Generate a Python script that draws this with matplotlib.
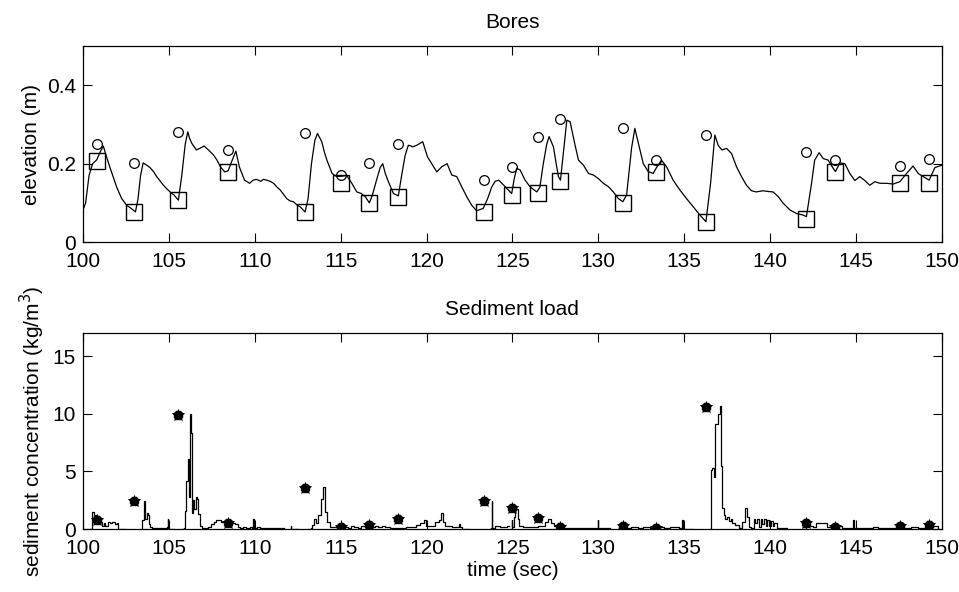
import numpy as np
import matplotlib
matplotlib.use("Agg")
import matplotlib.pyplot as plt

# ---------------- data ----------------
# bore events (time, crest elevation, trough elevation, sediment peak)
bore_t = [100.80, 102.97, 105.55, 108.45, 112.93, 115.00, 116.67, 118.36, 123.32,
          124.97, 126.47, 127.79, 131.44, 133.39, 136.27, 142.12, 143.81, 147.56, 149.27]
crest_elev = [0.250, 0.202, 0.280, 0.235, 0.277, 0.171, 0.202, 0.250, 0.158,
              0.192, 0.269, 0.313, 0.290, 0.209, 0.273, 0.229, 0.209, 0.194, 0.211]
trough_elev = [0.207, 0.076, 0.107, 0.179, 0.076, 0.150, 0.100, 0.116, 0.077,
               0.120, 0.124, 0.156, 0.100, 0.178, 0.052, 0.059, 0.178, 0.150, 0.150]
sed_peak = [0.78, 2.41, 9.9, 0.49, 3.56, 0.2, 0.34, 0.83, 2.41, 1.84,
            0.98, 0.2, 0.26, 0.06, 10.6, 0.55, 0.2, 0.26, 0.34]

# water surface elevation time series
elev_t = [100.00, 100.15, 100.35, 100.56, 100.80, 101.00, 101.18, 101.35, 101.57, 101.80,
          101.96, 102.25, 102.54, 102.80, 103.05, 103.20, 103.35, 103.50, 103.65, 103.90,
          104.10, 104.29, 104.50, 104.68, 104.90, 105.07, 105.30, 105.55, 105.75, 105.95,
          106.10, 106.20, 106.33, 106.60, 106.80, 107.05, 107.30, 107.60, 107.80, 108.00,
          108.25, 108.45, 108.65, 108.90, 109.10, 109.40, 109.70, 109.90, 110.10, 110.35,
          110.50, 110.70, 110.90, 111.09, 111.30, 111.48, 111.70, 111.86, 112.05, 112.25,
          112.45, 112.64, 112.93, 113.10, 113.30, 113.50, 113.65, 113.90, 114.05, 114.20,
          114.50, 114.77, 115.06, 115.35, 115.65, 115.94, 116.20, 116.45, 116.67, 116.85,
          117.10, 117.30, 117.45, 117.60, 117.78, 118.07, 118.36, 118.55, 118.75, 118.94,
          119.10, 119.20, 119.43, 119.78, 120.05, 120.30, 120.60, 120.88, 121.20, 121.47,
          121.76, 122.05, 122.34, 122.63, 122.92, 123.30, 123.55, 123.80, 124.00, 124.20,
          124.50, 124.67, 124.96, 125.10, 125.25, 125.45, 125.74, 126.03, 126.42, 126.60,
          126.80, 127.00, 127.14, 127.39, 127.55, 127.68, 127.80, 127.95, 128.17, 128.36,
          128.65, 128.85, 129.14, 129.43, 129.72, 130.00, 130.30, 130.60, 130.88, 131.17,
          131.43, 131.65, 131.94, 132.13, 132.33, 132.62, 132.91, 133.20, 133.39, 133.68,
          133.98, 134.36, 134.75, 135.14, 135.53, 135.92, 136.27, 136.54, 136.79, 136.98,
          137.20, 137.47, 137.76, 138.05, 138.34, 138.63, 138.92, 139.20, 139.60, 139.90,
          140.18, 140.48, 140.77, 141.16, 141.54, 141.93, 142.12, 142.42, 142.60, 142.86,
          143.10, 143.39, 143.68, 143.81, 144.07, 144.36, 144.65, 144.94, 145.23, 145.52,
          145.81, 146.10, 146.40, 146.78, 147.17, 147.56, 147.95, 148.33, 148.63, 148.92,
          149.27, 149.60, 150.00]
elev_v = [0.082, 0.100, 0.170, 0.200, 0.210, 0.230, 0.245, 0.220, 0.190, 0.160,
          0.140, 0.111, 0.094, 0.086, 0.077, 0.110, 0.170, 0.202, 0.198, 0.190,
          0.180, 0.167, 0.155, 0.145, 0.135, 0.128, 0.120, 0.107, 0.170, 0.250,
          0.281, 0.265, 0.252, 0.235, 0.239, 0.245, 0.235, 0.222, 0.209, 0.192,
          0.179, 0.182, 0.205, 0.232, 0.192, 0.158, 0.150, 0.158, 0.160, 0.155,
          0.160, 0.158, 0.155, 0.150, 0.140, 0.133, 0.120, 0.111, 0.105, 0.103,
          0.095, 0.090, 0.077, 0.110, 0.200, 0.260, 0.277, 0.256, 0.230, 0.209,
          0.175, 0.167, 0.168, 0.170, 0.150, 0.128, 0.124, 0.115, 0.100, 0.120,
          0.160, 0.190, 0.200, 0.175, 0.154, 0.124, 0.118, 0.170, 0.220, 0.247,
          0.245, 0.243, 0.247, 0.256, 0.218, 0.200, 0.179, 0.192, 0.200, 0.171,
          0.167, 0.141, 0.116, 0.094, 0.080, 0.086, 0.110, 0.141, 0.155, 0.158,
          0.145, 0.137, 0.124, 0.160, 0.188, 0.184, 0.158, 0.141, 0.128, 0.140,
          0.200, 0.250, 0.269, 0.243, 0.200, 0.167, 0.158, 0.220, 0.311, 0.307,
          0.247, 0.209, 0.196, 0.175, 0.171, 0.162, 0.150, 0.141, 0.128, 0.111,
          0.103, 0.120, 0.240, 0.290, 0.253, 0.200, 0.180, 0.175, 0.190, 0.209,
          0.192, 0.158, 0.133, 0.111, 0.090, 0.069, 0.052, 0.150, 0.273, 0.247,
          0.235, 0.239, 0.226, 0.192, 0.167, 0.145, 0.131, 0.128, 0.131, 0.129,
          0.128, 0.116, 0.099, 0.082, 0.073, 0.069, 0.065, 0.150, 0.209, 0.228,
          0.213, 0.209, 0.188, 0.180, 0.202, 0.200, 0.175, 0.157, 0.167, 0.157,
          0.145, 0.154, 0.150, 0.150, 0.148, 0.154, 0.175, 0.194, 0.175, 0.167,
          0.158, 0.190, 0.196]

nan = np.nan
# sediment concentration time series (nan = gap in record)
sed_t = [100.40, 100.55, 100.62, 100.70, 100.80, 100.90, 101.00, 101.10, 101.20, 101.30,
         101.45, 101.55, 101.70, 101.85, 101.98, 102.02, 102.50,
         103.36, 103.45, 103.52, 103.58, 103.62, 103.70, 103.76, 103.82, 103.90, 104.00,
         104.50, 104.88, 104.92, 104.96, 105.00, 105.30,
         105.74, 105.85, 105.95, 106.02, 106.10, 106.15, 106.22, 106.28, 106.32, 106.40,
         106.48, 106.55, 106.62, 106.70, 106.80, 106.90, 107.10, 107.30, 107.45, 107.60,
         107.75, 107.90, 108.05, 108.20, 108.35, 108.50, 108.70, 108.85, 109.00, 109.15,
         109.30, 109.50, 109.70, 109.85, 109.90, 109.95, 110.10, 110.30, 110.50, 111.33,
         111.70,
         112.08, 112.10, 112.12, 112.50,
         113.10, 113.25, 113.35, 113.45, 113.55, 113.70, 113.85, 113.99, 114.08, 114.18,
         114.38, 114.60, 114.80, 115.00, 115.20, 115.40, 115.60, 115.80, 116.00, 116.20,
         116.40, 116.60, 116.80, 117.00, 117.20, 117.40, 117.60, 117.87, 118.50, 118.80,
         119.20, 119.40, 119.60, 119.85, 119.95, 120.20, 120.50, 120.70, 120.85, 120.95,
         121.10, 121.50, 121.85, 121.90, 121.95, 122.04, 122.50,
         123.69, 123.76, 123.79, 123.83, 124.00, 124.30, 124.66, 124.80,
         124.90, 124.95, 125.00, 125.08, 125.15, 125.22, 125.30, 125.40, 125.60, 126.00,
         126.21, 126.50, 126.70, 126.90, 127.09, 127.25, 127.40, 127.70, 128.50, 129.00,
         129.50, 129.93, 129.96, 129.99, 130.30, 130.70,
         131.15, 131.20, 131.50, 131.90, 132.30, 132.60, 133.00, 133.40, 133.80, 134.20,
         134.70, 134.80,
         134.88, 134.90, 134.92, 135.50,
         136.53, 136.55, 136.65, 136.72, 136.80, 136.95, 137.08, 137.12, 137.19, 137.30,
         137.40, 137.50, 137.60, 137.70, 137.80, 137.95, 138.20, 138.35, 138.53, 138.65,
         138.78, 138.92, 139.05, 139.15, 139.25, 139.35, 139.45, 139.55, 139.65, 139.75,
         139.85, 139.95, 140.05, 140.15, 140.25, 140.38, 141.00,
         141.95, 142.10, 142.30, 142.50, 142.70, 143.00, 143.20, 143.30, 143.60, 143.90,
         144.20, 144.50, 144.80, 144.84, 144.88, 145.20, 145.50, 146.00, 146.30, 146.70,
         147.00, 147.50, 147.80, 148.20, 148.60, 149.00, 149.40, 149.79]
sed_c = [0.0, 1.5, 1.0, 1.2, 0.7, 0.5, 0.6, 0.3, 0.5, 0.3,
         0.6, 0.5, 0.6, 0.4, 0.5, 0.0, nan,
         0.0, 0.8, 2.4, 1.7, 0.9, 1.4, 1.2, 0.4, 0.2, 0.1,
         0.1, 0.15, 0.9, 0.1, 0.0, nan,
         0.0, 0.1, 1.6, 4.2, 6.1, 2.8, 10.0, 8.3, 1.4, 2.5,
         1.7, 2.8, 2.6, 1.3, 0.3, 0.1, 0.05, 0.2, 0.4, 0.6,
         0.8, 0.75, 0.6, 0.7, 0.5, 0.55, 0.5, 0.45, 0.2, 0.1,
         0.2, 0.1, 0.15, 0.1, 0.85, 0.1, 0.2, 0.1, 0.06, 0.06,
         nan,
         0.0, 0.25, 0.0, nan,
         0.0, 0.1, 0.35, 0.9, 0.5, 1.2, 2.6, 3.65, 1.5, 0.6,
         0.15, 0.2, 0.1, 0.3, 0.2, 0.1, 0.3, 0.15, 0.1, 0.25,
         0.15, 0.3, 0.2, 0.3, 0.15, 0.3, 0.2, 0.1, 0.05, 0.2,
         0.2, 0.35, 0.5, 0.8, 0.25, 0.25, 0.6, 0.75, 1.4, 0.6,
         0.3, 0.2, 0.2, 0.45, 0.15, 0.0, nan,
         0.0, 0.1, 2.4, 0.1, 0.25, 0.2, 0.25, nan,
         0.0, 0.8, 0.2, 1.0, 2.0, 1.7, 0.9, 0.3, 0.2, 0.2,
         0.15, 0.3, 0.3, 0.6, 0.85, 0.5, 0.25, 0.05, 0.05, 0.1,
         0.05, 0.05, 0.78, 0.05, 0.05, nan,
         0.0, 0.2, 0.1, 0.2, 0.1, 0.15, 0.1, 0.15, 0.1, 0.15,
         0.1, nan,
         0.0, 0.78, 0.0, nan,
         0.0, 5.1, 5.3, 4.5, 9.1, 10.0, 10.7, 5.5, 1.8, 1.2,
         0.9, 1.0, 0.7, 0.9, 0.5, 0.35, 0.06, 0.6, 1.8, 1.05,
         0.2, 0.05, 0.9, 0.5, 0.9, 0.2, 0.9, 0.4, 0.9, 0.3,
         0.8, 0.3, 0.7, 0.3, 0.5, 0.05, nan,
         0.0, 0.5, 0.3, 0.2, 0.5, 0.5, 0.5, 0.2, 0.25, 0.3,
         0.1, 0.1, 0.1, 0.78, 0.1, 0.05, 0.1, 0.2, 0.05, 0.05,
         0.1, 0.3, 0.1, 0.2, 0.1, 0.2, 0.3, 0.1]

x_ticks = [100, 105, 110, 115, 120, 125, 130, 135, 140, 145, 150]
elev_ticks = [0, 0.2, 0.4]
elev_ticklabels = ["0", "0.2", "0.4"]
sed_ticks = [0, 5, 10, 15]

# ---------------- figure ----------------
plt.rcParams['font.family'] = ['Liberation Sans', 'DejaVu Sans']
plt.rcParams['font.size'] = 15
FS = 15

fig = plt.figure(figsize=(9.59, 5.92), dpi=100)
ax1 = fig.add_axes([0.0866, 0.591, 0.8954, 0.3313])
ax2 = fig.add_axes([0.0866, 0.1064, 0.8954, 0.3311])

lw = 0.9
ax1.plot(elev_t, elev_v, color='black', lw=lw)
ax1.plot(bore_t, crest_elev, linestyle='none', marker='o', ms=7,
         mfc='none', mec='black', mew=0.9)
ax1.plot(bore_t, trough_elev, linestyle='none', marker='s', ms=11,
         mfc='none', mec='black', mew=1.0)
ax1.set_xlim(100, 150)
ax1.set_ylim(0, 0.5)
ax1.set_yticks(elev_ticks)
ax1.set_yticklabels(elev_ticklabels)
ax1.set_ylabel("elevation (m)", fontsize=FS, labelpad=4)
ax1.set_title("Bores", fontsize=FS, pad=13)

ax2.plot(sed_t, sed_c, color='black', lw=lw, drawstyle='steps-post')
ax2.plot(bore_t, sed_peak, linestyle='none', marker='8', ms=7,
         mfc='black', mec='black')
ax2.plot(bore_t, sed_peak, linestyle='none', marker='*', ms=9,
         mfc='black', mec='black', mew=0.6)
ax2.set_xlim(100, 150)
ax2.set_ylim(0, 17)
ax2.set_yticks(sed_ticks)
ax2.set_ylabel("sediment concentration (kg/m$^3$)", fontsize=FS, labelpad=4)
ax2.set_xlabel("time (sec)", fontsize=FS, labelpad=2)
ax2.set_title("Sediment load", fontsize=FS, pad=13)

for ax in (ax1, ax2):
    ax.set_xticks(x_ticks)
    ax.tick_params(direction='in', length=6.5, width=0.8, top=True, right=True,
                   labelsize=FS, colors='black')
    ax.tick_params(axis='x', pad=7)
    ax.tick_params(axis='y', pad=5)
    for s in ax.spines.values():
        s.set_linewidth(0.9)
        s.set_color('black')

fig.savefig("out.png", dpi=100)
